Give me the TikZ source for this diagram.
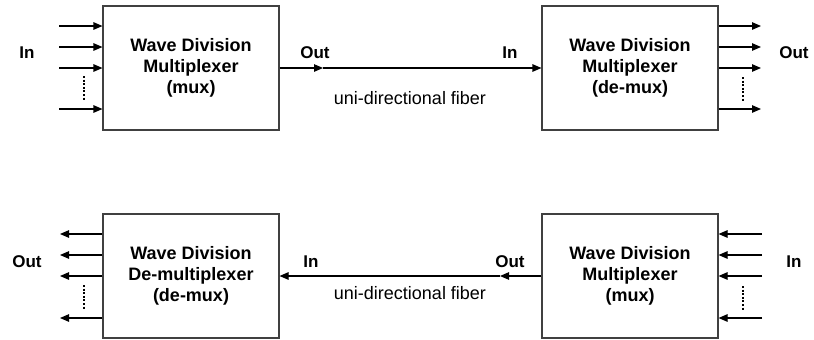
\documentclass[tikz,border=0pt]{standalone}
\usepackage{fontspec}
\setmainfont{Liberation Sans}
\usetikzlibrary{arrows.meta}
\begin{document}
\begin{tikzpicture}[x=1pt,y=-1pt,
  blk/.style={draw=black!75,line width=1.1pt,minimum width=176pt,minimum height=124pt,inner sep=0pt,
    align=center,font=\fontsize{18}{21}\selectfont\bfseries},
  arr/.style={draw=black,line width=1.1pt,-{Triangle[length=9pt,width=7.5pt]}},
  dotln/.style={line width=2.4pt,dash pattern=on 2pt off 1.6pt},
  lbl/.style={inner sep=0pt,font=\fontsize{17}{20}\selectfont\bfseries},
  fib/.style={inner sep=0pt,font=\fontsize{18}{21}\selectfont}]
\useasboundingbox (0,0) rectangle (814,340);
% boxes
\node[blk] (A) at (191,68) {Wave Division\\Multiplexer\\(mux)};
\node[blk] (B) at (630,68) {Wave Division\\Multiplexer\\(de-mux)};
\node[blk] (C) at (191,276) {Wave Division\\De-multiplexer\\(de-mux)};
\node[blk] (D) at (630,276) {Wave Division\\Multiplexer\\(mux)};
% top-left inputs
\foreach \i/\y in {1/26,2/47,3/68,4/109}{
  \coordinate (ai\i) at (59,\y);
  \draw[arr] (ai\i) -- (ai\i -| A.west);
}
\coordinate (ad1) at (84,76); \coordinate (ad2) at (84,100);
\draw[dotln] (ad1) -- (ad2);
\node[lbl] (inA) at (27,53) {In};
% top-right outputs
\foreach \i/\y in {1/26,2/47,3/68,4/109}{
  \coordinate (bo\i) at (761,\y);
  \draw[arr] (bo\i -| B.east) -- (bo\i);
}
\coordinate (bd1) at (743,77); \coordinate (bd2) at (743,101);
\draw[dotln] (bd1) -- (bd2);
\node[lbl] (outB) at (794,53) {Out};
% top fiber
\coordinate (tm) at (323,68);
\draw[arr] (A.east) -- (tm);
\draw[arr] (tm) -- (B.west);
\node[lbl] (toutl) at (315,53) {Out};
\node[lbl] (tinl) at (510,53) {In};
\node[fib] (tfib) at (410,98) {uni-directional fiber};
% bottom-left outputs
\foreach \i/\y in {1/234,2/255,3/276,4/318}{
  \coordinate (co\i) at (60,\y);
  \draw[arr] (co\i -| C.west) -- (co\i);
}
\coordinate (cd1) at (84,285); \coordinate (cd2) at (84,309);
\draw[dotln] (cd1) -- (cd2);
\node[lbl] (outC) at (27,262) {Out};
% bottom-right inputs
\foreach \i/\y in {1/234,2/255,3/276,4/318}{
  \coordinate (di\i) at (762,\y);
  \draw[arr] (di\i) -- (di\i -| D.east);
}
\coordinate (dd1) at (743,286); \coordinate (dd2) at (743,310);
\draw[dotln] (dd1) -- (dd2);
\node[lbl] (inD) at (794,262) {In};
% bottom fiber
\coordinate (bm) at (500,276);
\draw[arr] (D.west) -- (bm);
\draw[arr] (bm) -- (C.east);
\node[lbl] (binl) at (311,262) {In};
\node[lbl] (boutl) at (510,262) {Out};
\node[fib] (bfib) at (410,293) {uni-directional fiber};
\end{tikzpicture}
\end{document}
